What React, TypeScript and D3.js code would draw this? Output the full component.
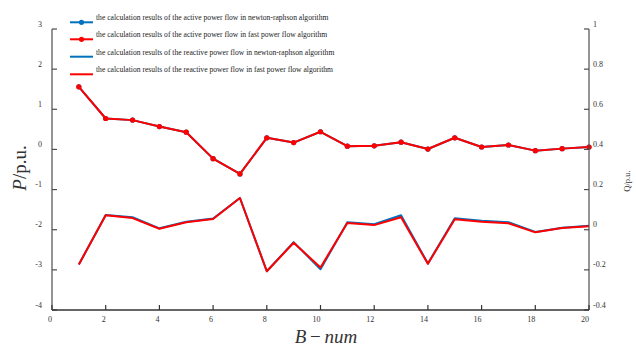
import React from "react";
import * as d3 from "d3";

// Bus numbers
const buses = [1, 2, 3, 4, 5, 6, 7, 8, 9, 10, 11, 12, 13, 14, 15, 16, 17, 18, 19, 20];

// Active power (p.u.), left axis
const pNewton = [1.56, 0.77, 0.73, 0.57, 0.43, -0.23, -0.61, 0.29, 0.17, 0.44, 0.08, 0.09, 0.18, 0.01, 0.29, 0.06, 0.11, -0.03, 0.02, 0.06];
const pFast = [1.56, 0.77, 0.73, 0.57, 0.43, -0.23, -0.61, 0.29, 0.17, 0.44, 0.08, 0.09, 0.18, 0.01, 0.29, 0.06, 0.11, -0.03, 0.02, 0.06];

// Reactive power (p.u.), right axis
const qNewton = [-0.173, 0.073, 0.062, 0.007, 0.04, 0.056, 0.158, -0.207, -0.062, -0.197, 0.037, 0.027, 0.072, -0.168, 0.057, 0.045, 0.037, -0.011, 0.01, 0.02];
const qFast = [-0.173, 0.072, 0.058, 0.005, 0.037, 0.053, 0.158, -0.207, -0.065, -0.188, 0.033, 0.023, 0.062, -0.17, 0.052, 0.04, 0.032, -0.013, 0.008, 0.017];

// Tick values
const xTicks = [0, 2, 4, 6, 8, 10, 12, 14, 16, 18, 20];
const leftTicks = [3, 2, 1, 0, -1, -2, -3, -4];
const rightTicks = [1, 0.8, 0.6, 0.4, 0.2, 0, -0.2, -0.4];

const legendLabels = [
  "the calculation results of the active power flow in newton-raphson algorithm",
  "the calculation results of the active power flow in fast power flow algorithm",
  "the calculation results of the reactive power flow in newton-raphson algorithm",
  "the calculation results of the reactive power flow in fast power flow algorithm",
];

const BLUE = "#0072BD";
const RED = "#FF0000";
const AXIS = "#4d4d4d";
const serif: React.CSSProperties = { fontFamily: "'Liberation Serif', 'DejaVu Serif', serif" };

export default function App() {
  const W = 636;
  const H = 346;
  const x = d3.scaleLinear().domain([0, 20]).range([52, 589]);
  const yL = d3.scaleLinear().domain([-4, 3]).range([310, 29]);
  const yR = d3.scaleLinear().domain([-0.4, 1]).range([310, 29]);

  const lineL = d3
    .line<number>()
    .x((_, i) => x(buses[i]))
    .y((d) => yL(d));
  const lineR = d3
    .line<number>()
    .x((_, i) => x(buses[i]))
    .y((d) => yR(d));

  const series = [
    { color: BLUE, marker: true, path: lineL(pNewton), vals: pNewton, y: yL },
    { color: RED, marker: true, path: lineL(pFast), vals: pFast, y: yL },
    { color: BLUE, marker: false, path: lineR(qNewton), vals: qNewton, y: yR },
    { color: RED, marker: false, path: lineR(qFast), vals: qFast, y: yR },
  ];

  const drawOrder = [2, 3, 0, 1];

  return (
    <svg width={W} height={H} style={{ position: "absolute", left: 0, top: 0, background: "#fff" }}>
      <rect width={W} height={H} fill="#fff" />

      {/* series */}
      {drawOrder.map((k) => {
        const s = series[k];
        return (
          <g key={k}>
            <path d={s.path ?? ""} fill="none" stroke={s.color} strokeWidth={2} strokeLinejoin="round" />
            {s.marker &&
              s.vals.map((v, i) => (
                <circle key={i} cx={x(buses[i])} cy={s.y(v)} r={2.6} fill={s.color} />
              ))}
          </g>
        );
      })}

      {/* left axis */}
      <line x1={52} x2={52} y1={yL(3)} y2={yL(-4)} stroke={AXIS} strokeWidth={1.2} />
      {leftTicks.map((t) => (
        <g key={t}>
          <line x1={52} x2={57} y1={yL(t)} y2={yL(t)} stroke={AXIS} strokeWidth={1.2} />
          <text x={42} y={yL(t) - 5} textAnchor="end" dominantBaseline="central" fontSize={8} fill="#333" style={serif}>
            {t < 0 ? `-${Math.abs(t)}` : t}
          </text>
        </g>
      ))}

      {/* right axis */}
      <line x1={589} x2={589} y1={yR(1)} y2={yR(-0.4)} stroke={AXIS} strokeWidth={1.2} />
      {rightTicks.map((t) => (
        <g key={t}>
          <line x1={584} x2={589} y1={yR(t)} y2={yR(t)} stroke={AXIS} strokeWidth={1.2} />
          <text x={593} y={yR(t) - 5} textAnchor="start" dominantBaseline="central" fontSize={8} fill="#333" style={serif}>
            {t < 0 ? `-${Math.abs(t)}` : String(t)}
          </text>
        </g>
      ))}

      {/* bottom axis */}
      <line x1={52} x2={589} y1={310} y2={310} stroke="#333" strokeWidth={1.5} />
      {xTicks.map((t) => (
        <g key={t}>
          <line x1={x(t)} x2={x(t)} y1={305} y2={310} stroke="#333" strokeWidth={1.2} />
          <text x={x(t)} y={319.5} textAnchor="end" dominantBaseline="central" fontSize={8} fill="#333" style={serif}>
            {t}
          </text>
        </g>
      ))}

      {/* axis titles */}
      <text transform="translate(26,168) rotate(-90)" textAnchor="middle" fontSize={19} fill="#333" style={serif}>
        <tspan fontStyle="italic">P</tspan>
        <tspan>/p.u.</tspan>
      </text>
      <text transform="translate(630,181) rotate(-90)" textAnchor="middle" fontSize={8.5} fill="#333" style={serif}>
        Q/p.u.
      </text>
      <text x={326} y={343} textAnchor="middle" fontSize={19} fill="#333" style={serif}>
        <tspan fontStyle="italic">B</tspan>
        <tspan>{"\u2009\u2212\u2009"}</tspan>
        <tspan fontStyle="italic">num</tspan>
      </text>

      {/* legend */}
      {legendLabels.map((label, i) => {
        const ly = [22.3, 39.3, 56.7, 74.3][i];
        const color = i % 2 === 0 ? BLUE : RED;
        return (
          <g key={i}>
            <line x1={70} x2={93} y1={ly} y2={ly} stroke={color} strokeWidth={2} />
            {i < 2 && <circle cx={81.5} cy={ly} r={2.6} fill={color} />}
            <text x={96} y={ly - 4.5} dominantBaseline="central" fontSize={7.6} fill="#222" style={serif}>
              {label}
            </text>
          </g>
        );
      })}
    </svg>
  );
}
